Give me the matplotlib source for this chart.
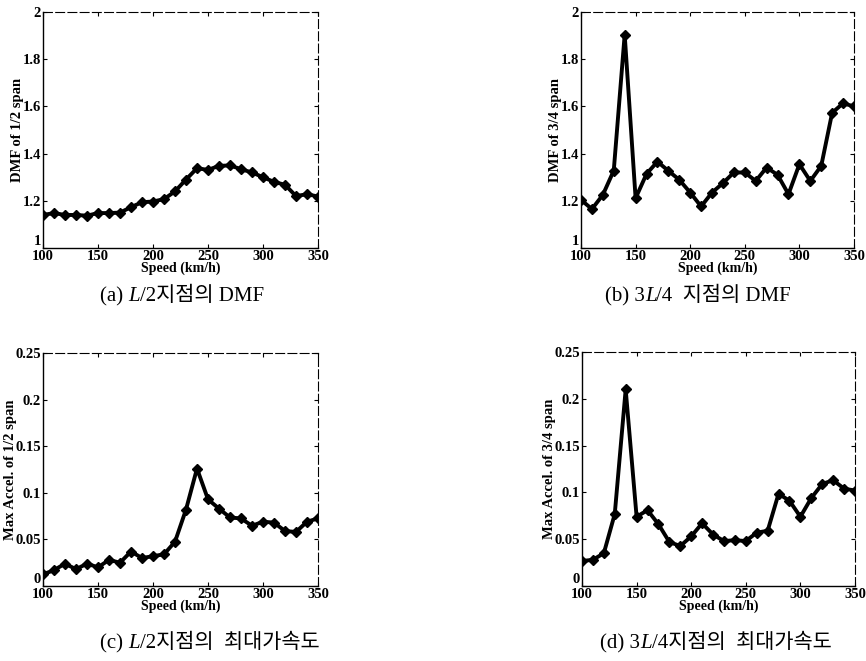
import numpy as np
import matplotlib
matplotlib.use("Agg")
import matplotlib.pyplot as plt

# =============================
# data
# =============================
speed = np.arange(100, 351, 10)

dmf_half = [1.14, 1.148, 1.14, 1.14, 1.137, 1.148, 1.148, 1.15, 1.173, 1.194,
            1.197, 1.207, 1.24, 1.29, 1.338, 1.331, 1.348, 1.35, 1.334, 1.32,
            1.30, 1.28, 1.268, 1.22, 1.228, 1.218]

dmf_34 = [1.204, 1.165, 1.225, 1.328, 1.904, 1.211, 1.314, 1.366, 1.327, 1.289,
          1.235, 1.176, 1.235, 1.275, 1.32, 1.32, 1.284, 1.341, 1.31, 1.228,
          1.355, 1.284, 1.348, 1.573, 1.613, 1.60]

acc_half = [0.0125, 0.017, 0.024, 0.018, 0.024, 0.020, 0.028, 0.025, 0.037, 0.030,
            0.032, 0.034, 0.0475, 0.082, 0.126, 0.093, 0.083, 0.0735, 0.0725, 0.0646,
            0.069, 0.068, 0.059, 0.058, 0.069, 0.0725]

acc_34 = [0.0267, 0.028, 0.035, 0.077, 0.21, 0.074, 0.081, 0.066, 0.047, 0.0427,
          0.053, 0.067, 0.055, 0.048, 0.049, 0.048, 0.057, 0.059, 0.0986, 0.091,
          0.074, 0.094, 0.109, 0.113, 0.104, 0.102]

x_ticks = [100, 150, 200, 250, 300, 350]
dmf_ticks = [1, 1.2, 1.4, 1.6, 1.8, 2]
dmf_labels = ['1', '1.2', '1.4', '1.6', '1.8', '2']
acc_ticks = [0, 0.05, 0.1, 0.15, 0.2, 0.25]
acc_labels = ['0', '0.05', '0.1', '0.15', '0.2', '0.25']

ylabels = ['DMF of 1/2 span', 'DMF of 3/4 span',
           'Max Accel. of 1/2 span', 'Max Accel. of 3/4 span']

# caption pieces: (text, italic?)
captions = [
    [('(a) ', False), ('L', True), ('/2지점의 DMF', False)],
    [('(b) 3', False), ('L', True), ('/4  지점의 DMF', False)],
    [('(c) ', False), ('L', True), ('/2지점의  최대가속도', False)],
    [('(d) 3', False), ('L', True), ('/4지점의  최대가속도', False)],
]

# =============================
# layout (pixels -> figure fractions)
# =============================
W, H = 866, 661
boxes = [
    (43, 12, 318, 248),
    (581, 12, 854, 248),
    (43, 353, 318, 586),
    (582, 352, 855, 586),
]
cap_pos = [(100, 301), (605, 301), (100, 648), (600, 648)]

serif = ['Liberation Serif', 'DejaVu Serif']
cap_family = ['Liberation Serif', 'Noto Sans CJK KR', 'DejaVu Sans']

fig = plt.figure(figsize=(W / 100, H / 100), dpi=100)

series = [dmf_half, dmf_34, acc_half, acc_34]
for i, (x0, y0, x1, y1) in enumerate(boxes):
    ax = fig.add_axes([x0 / W, (H - y1) / H, (x1 - x0) / W, (y1 - y0) / H])
    ax.plot(speed, series[i], '-', color='black', linewidth=2.8,
            marker='D', markersize=5.5, markerfacecolor='black')
    ax.set_xlim(100, 350)
    ax.set_xticks(x_ticks)
    if i < 2:
        ax.set_ylim(1, 2)
        ax.set_yticks(dmf_ticks)
        ax.set_yticklabels(dmf_labels)
    else:
        ax.set_ylim(0, 0.25)
        ax.set_yticks(acc_ticks)
        ax.set_yticklabels(acc_labels)
    ax.tick_params(direction='in', length=3, width=0.8, top=True, right=True,
                   pad=1.5)
    for lab in ax.get_xticklabels() + ax.get_yticklabels():
        lab.set_family(serif)
        lab.set_fontweight('bold')
        lab.set_fontsize(10.5)
    # lowest y label sits just above the corner, clear of the "100"
    ax.get_yticklabels()[0].set_verticalalignment('bottom')
    ax.set_xlabel('Speed (km/h)', family=serif, fontweight='bold', fontsize=10,
                  labelpad=-1)
    ax.set_ylabel(ylabels[i], family=serif, fontweight='bold', fontsize=10.5,
                  labelpad=-1)
    for s in ['left', 'bottom']:
        ax.spines[s].set_linewidth(1.0)
    for s in ['top', 'right']:
        ax.spines[s].set_linewidth(0.8)
        ax.spines[s].set_linestyle((0, (8, 3)))

# captions built piece by piece so the L can be italic
renderer = fig.canvas.get_renderer()
for parts, (cx, cy) in zip(captions, cap_pos):
    x = cx / W
    y = (H - cy) / H
    for txt, ital in parts:
        t = fig.text(x, y, txt, family=cap_family, fontsize=15,
                     style='italic' if ital else 'normal', va='baseline', ha='left')
        bb = t.get_window_extent(renderer)
        x = bb.x1 / fig.bbox.width

fig.savefig('out.png', dpi=100)
